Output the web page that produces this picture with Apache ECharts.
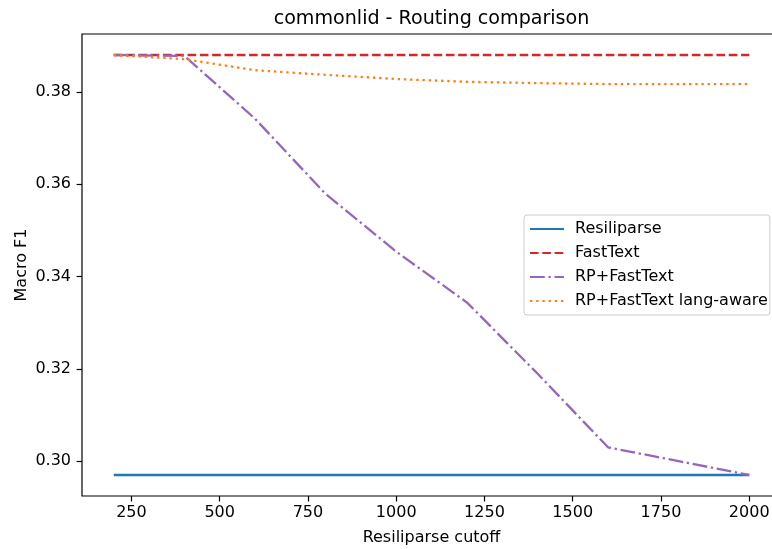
<!DOCTYPE html>
<html><head><meta charset="utf-8">
<script src="https://cdn.jsdelivr.net/npm/echarts@6/dist/echarts.min.js"></script>
<style>html,body{margin:0;padding:0;background:#fff;overflow:hidden;width:772px;height:549px}#c{width:772px;height:549px}</style>
</head><body><div id="c"></div>
<script>
const cutoffs = [200, 400, 600, 800, 1000, 1200, 1400, 1600, 1800, 2000];
const resiliparse = [0.297, 0.297, 0.297, 0.297, 0.297, 0.297, 0.297, 0.297, 0.297, 0.297];
const fasttext = [0.388, 0.388, 0.388, 0.388, 0.388, 0.388, 0.388, 0.388, 0.388, 0.388];
const rpFasttext = [0.3880, 0.3878, 0.3742, 0.3579, 0.3454, 0.3344, 0.3190, 0.3030, 0.3000, 0.2970];
const rpFasttextLang = [0.3880, 0.3871, 0.3847, 0.3837, 0.3828, 0.3822, 0.3819, 0.3817, 0.3817, 0.3817];
const xTicks = [250, 500, 750, 1000, 1250, 1500, 1750, 2000];
const yTicks = [0.30, 0.32, 0.34, 0.36, 0.38];
const seriesNames = ['Resiliparse', 'FastText', 'RP+FastText', 'RP+FastText lang-aware'];

const FONT = 'DejaVu Sans';
const pair = ys => cutoffs.map((x, i) => [x, ys[i]]);
const chart = echarts.init(document.getElementById('c'), null, {renderer: 'canvas'});
const lw = 2.3;
function mk(name, data, color, type) {
  return {
    name, type: 'line', data: pair(data), showSymbol: false, symbol: 'none',
    lineStyle: {color, width: lw, type, cap: 'butt'}, itemStyle: {color},
    emphasis: {disabled: true}, z: 3
  };
}
chart.setOption({
  animation: false,
  backgroundColor: '#fff',
  textStyle: {fontFamily: FONT},
  title: {
    text: 'commonlid - Routing comparison', left: 426.5, top: 5, textAlign: 'center',
    textStyle: {fontFamily: FONT, fontSize: 19.1, fontWeight: 'normal', color: '#000'}
  },
  grid: {left: 82, top: 34, width: 699, height: 462, show: true, borderColor: '#000', borderWidth: 1.2, backgroundColor: 'transparent', containLabel: false, outerBoundsMode: 'none'},
  xAxis: {
    type: 'value', min: 110, max: 2090,
    name: 'Resiliparse cutoff', nameLocation: 'middle', nameGap: 34, nameMoveOverlap: false,
    nameTextStyle: {fontFamily: FONT, fontSize: 16, color: '#000'},
    axisLine: {show: false},
    axisTick: {show: true, length: 5.4, lineStyle: {color: '#000', width: 1.2}, customValues: xTicks},
    axisLabel: {margin: 8.5, fontFamily: FONT, fontSize: 16, color: '#000', customValues: xTicks, formatter: v => String(v)},
    splitLine: {show: false}
  },
  yAxis: {
    type: 'value', min: 0.29245, max: 0.39255,
    name: 'Macro F1', nameLocation: 'middle', nameGap: 52, nameRotate: 90, nameMoveOverlap: false,
    nameTextStyle: {fontFamily: FONT, fontSize: 16, color: '#000'},
    axisLine: {show: false},
    axisTick: {show: true, length: 5.4, lineStyle: {color: '#000', width: 1.2}, customValues: yTicks},
    axisLabel: {margin: 11, fontFamily: FONT, fontSize: 16, color: '#000', customValues: yTicks, formatter: v => v.toFixed(2)},
    splitLine: {show: false}
  },
  legend: {
    orient: 'vertical', left: 524, top: 215,
    data: seriesNames,
    itemWidth: 34, itemHeight: 14, itemGap: 8,
    padding: [6, 2, 6, 5],
    itemStyle: {opacity: 0, borderWidth: 0},
    backgroundColor: 'rgba(255,255,255,0.8)', borderColor: '#cccccc', borderWidth: 1, borderRadius: 3,
    textStyle: {fontFamily: FONT, fontSize: 16, lineHeight: 16, color: '#000', padding: [0, 0, 0, 6]},
    selectedMode: false
  },
  series: [
    mk(seriesNames[0], resiliparse, '#1f77b4', 'solid'),
    mk(seriesNames[1], fasttext, '#d62728', [8.6, 3.7]),
    mk(seriesNames[2], rpFasttext, '#9467bd', [14.8, 3.7, 2.3, 3.7]),
    mk(seriesNames[3], rpFasttextLang, '#ff7f0e', [2.3, 3.9])
  ]
});
</script></body></html>
